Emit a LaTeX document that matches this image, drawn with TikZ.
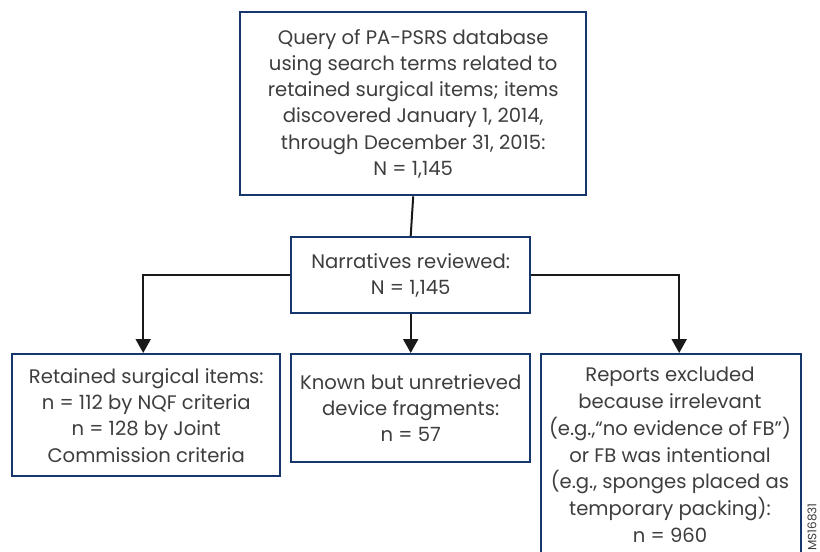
\documentclass[tikz,border=0pt]{standalone}
\usepackage{fontspec}
\setmainfont{Poppins}
\usetikzlibrary{arrows.meta}
\definecolor{boxblue}{RGB}{22,55,108}
\definecolor{txt}{RGB}{62,62,62}
\tikzset{
  box/.style={draw=boxblue, line width=2.4pt, fill=white, align=center, text=txt,
    font=\fontsize{19.6}{26.3}\selectfont, inner sep=0pt, anchor=north west},
  conn/.style={draw=black!90, line width=2pt},
  arr/.style={conn, -{Triangle[length=14pt,width=15pt]}}
}
\begin{document}
\begin{tikzpicture}[x=1pt,y=-1pt]
\useasboundingbox (0,0) rectangle (820,552);
\node[box, minimum width=346pt, minimum height=183pt] (top) at (239,11)
  {Query of PA-PSRS database\\using search terms related to\\retained surgical items; items\\discovered January 1, 2014,\\through December 31, 2015:\\N = 1,145};
\node[box, minimum width=239pt, minimum height=76pt] (mid) at (290,236)
  {Narratives reviewed:\\N = 1,145};
\node[box, minimum width=268pt, minimum height=122pt] (lb) at (11,353)
  {Retained surgical items:\\n = 112 by NQF criteria\\n = 128 by Joint\\Commission criteria};
\node[box, minimum width=239pt, minimum height=108pt] (mb) at (290,353)
  {Known but unretrieved\\device fragments:\\n = 57};
\node[box, minimum width=260pt, minimum height=215pt, anchor=north west] (rb) at (540,353) {};
\node[align=center, text=txt, font=\fontsize{19.6}{26.8}\selectfont, anchor=north, inner sep=0pt] (rbt) at (670,367)
  {Reports excluded\\because irrelevant\\(e.g.,“no evidence of FB”)\\or FB was intentional\\(e.g., sponges placed as\\temporary packing):\\n = 960};
\node[rotate=90, text=txt, font=\fontsize{12}{12}\selectfont, inner sep=0pt] (ms) at (812,527) {MS16831};
\draw[conn] (top.south) -- (mid.north);
\draw[arr] (mid.west) -| ([xshift=-3pt]lb.north);
\draw[arr] (mid.south) -- (mb.north);
\draw[arr] (mid.east) -| ([xshift=8pt]rb.north);
\end{tikzpicture}
\end{document}
